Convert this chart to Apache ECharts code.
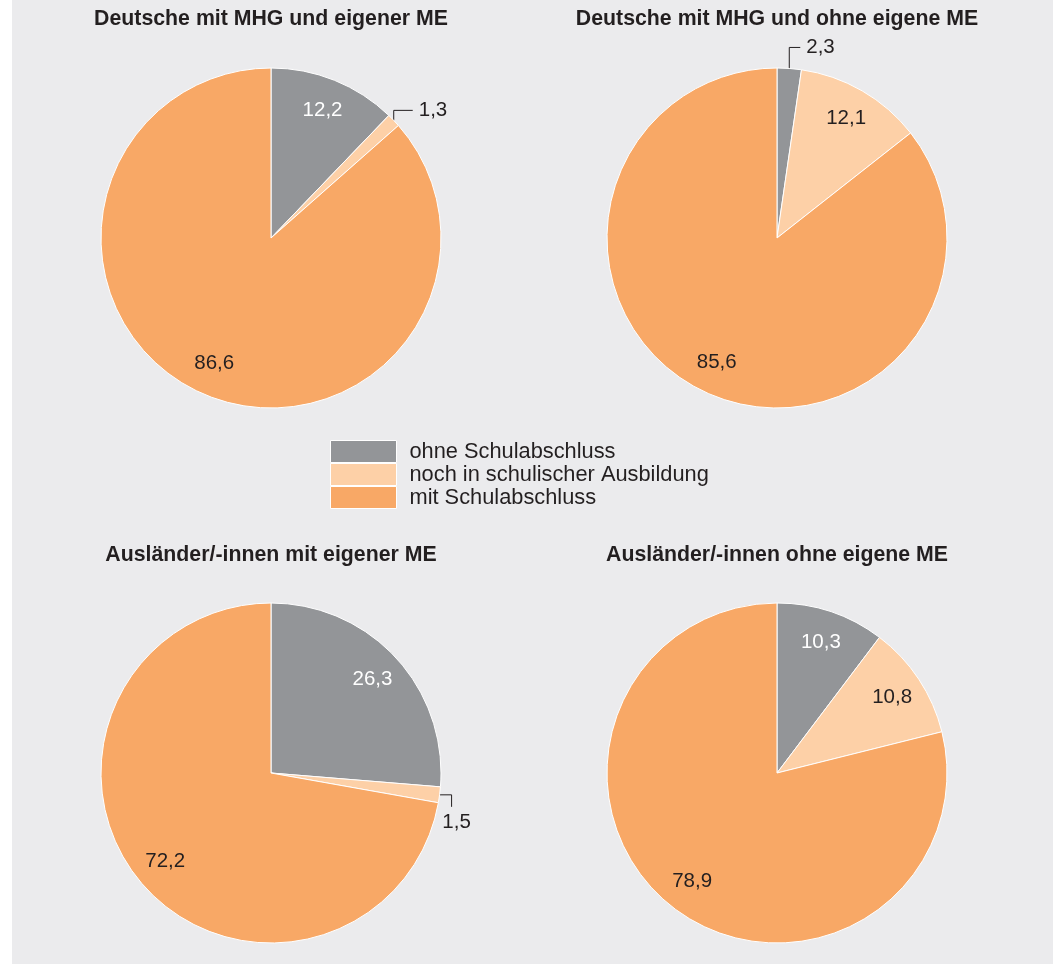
<!DOCTYPE html>
<html><head><meta charset="utf-8">
<script src="https://cdn.jsdelivr.net/npm/echarts@6/dist/echarts.min.js"></script>
<style>html,body{margin:0;padding:0;background:#fff}#chart{width:1053px;height:964px}</style>
</head><body><div id="chart"></div>
<script>
// ---- data ----
const categories = ['ohne Schulabschluss', 'noch in schulischer Ausbildung', 'mit Schulabschluss'];
const titles = ['Deutsche mit MHG und eigener ME', 'Deutsche mit MHG und ohne eigene ME', 'Ausländer/-innen mit eigener ME', 'Ausländer/-innen ohne eigene ME'];
const deutscheMitME = [12.2, 1.3, 86.6];
const deutscheOhneME = [2.3, 12.1, 85.6];
const auslaenderMitME = [26.3, 1.5, 72.2];
const auslaenderOhneME = [10.3, 10.8, 78.9];
const seriesValues = [deutscheMitME, deutscheOhneME, auslaenderMitME, auslaenderOhneME];

// ---- styling / layout ----
const colors = ['#939598', '#fdd0a7', '#f8a866'];
const textColor = '#231f20';
const centers = [[271, 238], [777, 238], [271, 773], [777, 773]];
const titleTops = [9, 9, 545, 545];
const leaders = [{dir: 'up', v: 10, h: 19}, {dir: 'up', v: 21, h: 11}, {dir: 'down', h: 12, v: 12}, null];
const FONT = '"Liberation Sans", Arial, Helvetica, sans-serif';
const SMALL = 5;
const R = 170;

function fmt(v) { return v.toFixed(1).replace('.', ','); }

function makeLayout(ld) {
  return function (params) {
    const pts = params.labelLinePoints;
    if (!pts || !ld) return {};
    const p0 = pts[0];
    if (ld.dir === 'up') {
      const p1 = [p0[0], p0[1] - ld.v], p2 = [p0[0] + ld.h, p0[1] - ld.v];
      return {x: p2[0] + 6, y: p2[1], align: 'left', verticalAlign: 'middle', labelLinePoints: [p0, p1, p2]};
    } else {
      const p1 = [p0[0] + ld.h, p0[1]], p2 = [p0[0] + ld.h, p0[1] + ld.v];
      return {x: p2[0] + 5, y: p2[1] + 16, align: 'center', verticalAlign: 'middle', labelLinePoints: [p0, p1, p2]};
    }
  };
}

const series = [];
seriesValues.forEach((vals, i) => {
  series.push({
    type: 'pie', center: centers[i], radius: [0, R], startAngle: 90, clockwise: true,
    avoidLabelOverlap: false, animation: false,
    emphasis: {disabled: true},
    itemStyle: {borderColor: '#fff', borderWidth: 1},
    label: {position: 'outside', formatter: p => fmt(p.value), fontSize: 20.5, fontFamily: FONT, color: textColor},
    labelLine: {show: true, length: 10, length2: 10, lineStyle: {color: textColor, width: 1}},
    labelLayout: makeLayout(leaders[i]),
    data: categories.map((n, j) => ({
      name: n, value: vals[j], itemStyle: {color: colors[j]},
      label: {show: vals[j] < SMALL}, labelLine: {show: vals[j] < SMALL}
    }))
  });
});
seriesValues.forEach((vals, i) => {
  series.push({
    type: 'pie', center: centers[i], radius: [100, R], startAngle: 90, clockwise: true,
    avoidLabelOverlap: false, animation: false, silent: true, legendHoverLink: false,
    emphasis: {disabled: true},
    itemStyle: {color: 'rgba(0,0,0,0)', borderWidth: 0},
    label: {position: 'inside', formatter: p => fmt(p.value), fontSize: 20.5, fontFamily: FONT},
    labelLine: {show: false},
    data: categories.map((n, j) => ({
      name: n, value: vals[j],
      label: {show: vals[j] >= SMALL, color: j === 0 ? '#ffffff' : textColor}
    }))
  });
});

const chart = echarts.init(document.getElementById('chart'), null, {renderer: 'canvas'});
chart.setOption({
  backgroundColor: '#ebebed',
  animation: false,
  graphic: [{type: 'rect', left: 0, top: 0, shape: {width: 12, height: 964}, style: {fill: '#ffffff'}}],
  title: titles.map((t, i) => ({
    text: t, left: centers[i][0], top: titleTops[i], textAlign: 'center', padding: 0,
    textStyle: {fontSize: 21.3, fontWeight: 'bold', fontFamily: FONT, color: textColor}
  })),
  legend: {
    orient: 'vertical', left: 330, top: 440, itemWidth: 66, itemHeight: 22, itemGap: 0, padding: 0,
    icon: 'rect', selectedMode: false, data: categories,
    itemStyle: {borderColor: '#ffffff', borderWidth: 1},
    textStyle: {fontSize: 21.8, fontFamily: FONT, color: textColor, padding: [2, 0, 0, 8]}
  },
  series: series
});
</script>
</body></html>
